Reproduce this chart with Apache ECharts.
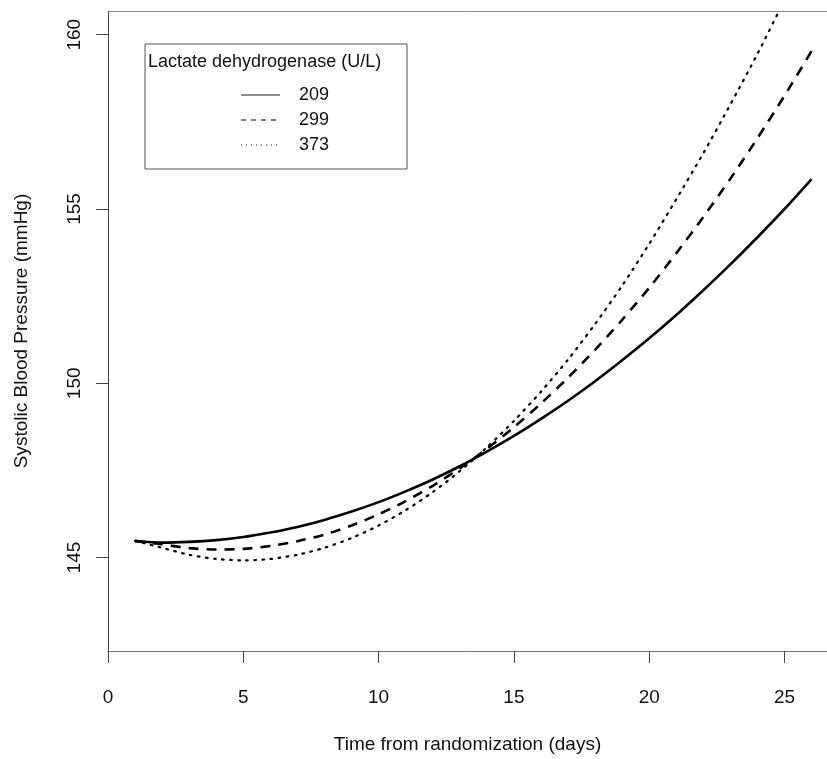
<!DOCTYPE html>
<html>
<head>
<meta charset="utf-8">
<script src="https://cdn.jsdelivr.net/npm/echarts@6/dist/echarts.min.js"></script>
<style>
html,body{margin:0;padding:0;background:#fff;}
#chart{width:827px;height:759px;}
</style>
</head>
<body>
<div id="chart"></div>
<script>
// ---- data ----
var days = [1,2,3,4,5,6,7,8,9,10,11,12,13,14,15,16,17,18,19,20,21,22,23,24,25,26];
var ldh209 = [145.47,145.43,145.45,145.50,145.59,145.72,145.88,146.08,146.32,146.59,146.90,147.24,147.62,148.04,148.49,148.98,149.50,150.06,150.66,151.29,151.96,152.67,153.41,154.19,155.00,155.86];
var ldh299 = [145.48,145.38,145.27,145.23,145.25,145.33,145.47,145.66,145.92,146.24,146.62,147.06,147.56,148.12,148.74,149.42,150.16,150.96,151.82,152.74,153.73,154.77,155.87,157.03,158.25,159.53];
var ldh373 = [145.48,145.28,145.08,144.96,144.92,144.96,145.08,145.28,145.56,145.92,146.36,146.88,147.48,148.16,148.92,149.76,150.68,151.70,152.80,154.00,155.28,156.60,158.00,159.45,161.00,162.60];
var seriesNames = ['209','299','373'];
var xTicks = [0,5,10,15,20,25];
var yTicks = [145,150,155,160];
var legendTitle = 'Lactate dehydrogenase (U/L)';
var xTitle = 'Time from randomization (days)';
var yTitle = 'Systolic Blood Pressure (mmHg)';

function pairs(ys){ return days.map(function(d,i){ return [d, ys[i]]; }); }

var FONT = 'Liberation Sans, Arial, Helvetica, sans-serif';
var chart = echarts.init(document.getElementById('chart'), null, {renderer:'canvas'});

var lineTypes = ['solid', [10, 8], [1.6, 6.5]];
var lineWidths = [2.6, 2.6, 2.2];
var allData = [ldh209, ldh299, ldh373];

var series = allData.map(function(ys, i){
  return {
    name: seriesNames[i], type: 'line', data: pairs(ys),
    xAxisIndex: 0, yAxisIndex: 0,
    showSymbol: false, symbol: 'none', smooth: 0.25, clip: true,
    lineStyle: {color: '#000', width: lineWidths[i], type: lineTypes[i], cap: i===2 ? 'round' : 'butt'},
    silent: true, animation: false
  };
});

// legend drawn as graphics (box, title, samples)
var lg = {left:145, top:44, right:407, bottom:169};
var graphics = [
  {type:'rect', shape:{x:lg.left, y:lg.top, width:lg.right-lg.left, height:lg.bottom-lg.top},
   style:{fill:'none', stroke:'#555', lineWidth:1}},
  {type:'text', x:148, y:62, style:{text:legendTitle, font:'18px '+FONT, fill:'#111', textVerticalAlign:'middle'}}
];
var itemY = [95, 120, 145];
seriesNames.forEach(function(n, i){
  graphics.push({type:'line', shape:{x1:241, y1:itemY[i], x2:280, y2:itemY[i]},
    style:{stroke:'#222', lineWidth:1.2, lineDash: i===0 ? null : (i===1 ? [5,5] : [1,4])}});
  graphics.push({type:'text', x:299, y:itemY[i], style:{text:n, font:'18px '+FONT, fill:'#111', textVerticalAlign:'middle'}});
});

chart.setOption({
  animation: false,
  backgroundColor: '#fff',
  grid: {left:108, right:0, top:11, bottom:98, containLabel:false},
  xAxis: [{
    type:'value', min:0, max:26.57, position:'bottom',
    name: xTitle, nameLocation:'middle', nameGap:84,
    nameTextStyle:{fontFamily:FONT, fontSize:19, color:'#111'},
    axisLine:{show:true, onZero:false, lineStyle:{color:'#777', width:1}},
    axisTick:{show:true, length:12, customValues:xTicks, lineStyle:{color:'#444', width:1}},
    axisLabel:{show:true, margin:37, customValues:xTicks, fontFamily:FONT, fontSize:19, color:'#111'},
    splitLine:{show:false}
  },{
    type:'value', min:0, max:26.57, position:'top',
    axisLine:{show:true, onZero:false, lineStyle:{color:'#888', width:1}},
    axisTick:{show:false}, axisLabel:{show:false}, splitLine:{show:false}
  }],
  yAxis: [{
    type:'value', min:142.32, max:160.68, position:'left',
    name: yTitle, nameLocation:'middle', nameGap:77, nameRotate:90,
    nameTextStyle:{fontFamily:FONT, fontSize:19, color:'#111'},
    axisLine:{show:true, onZero:false, lineStyle:{color:'#444', width:1}},
    axisTick:{show:true, length:12, customValues:yTicks, lineStyle:{color:'#444', width:1}},
    axisLabel:{show:true, rotate:90, margin:24, customValues:yTicks, fontFamily:FONT, fontSize:19, color:'#111'},
    splitLine:{show:false}
  }],
  series: series,
  graphic: graphics
});
</script>
</body>
</html>
